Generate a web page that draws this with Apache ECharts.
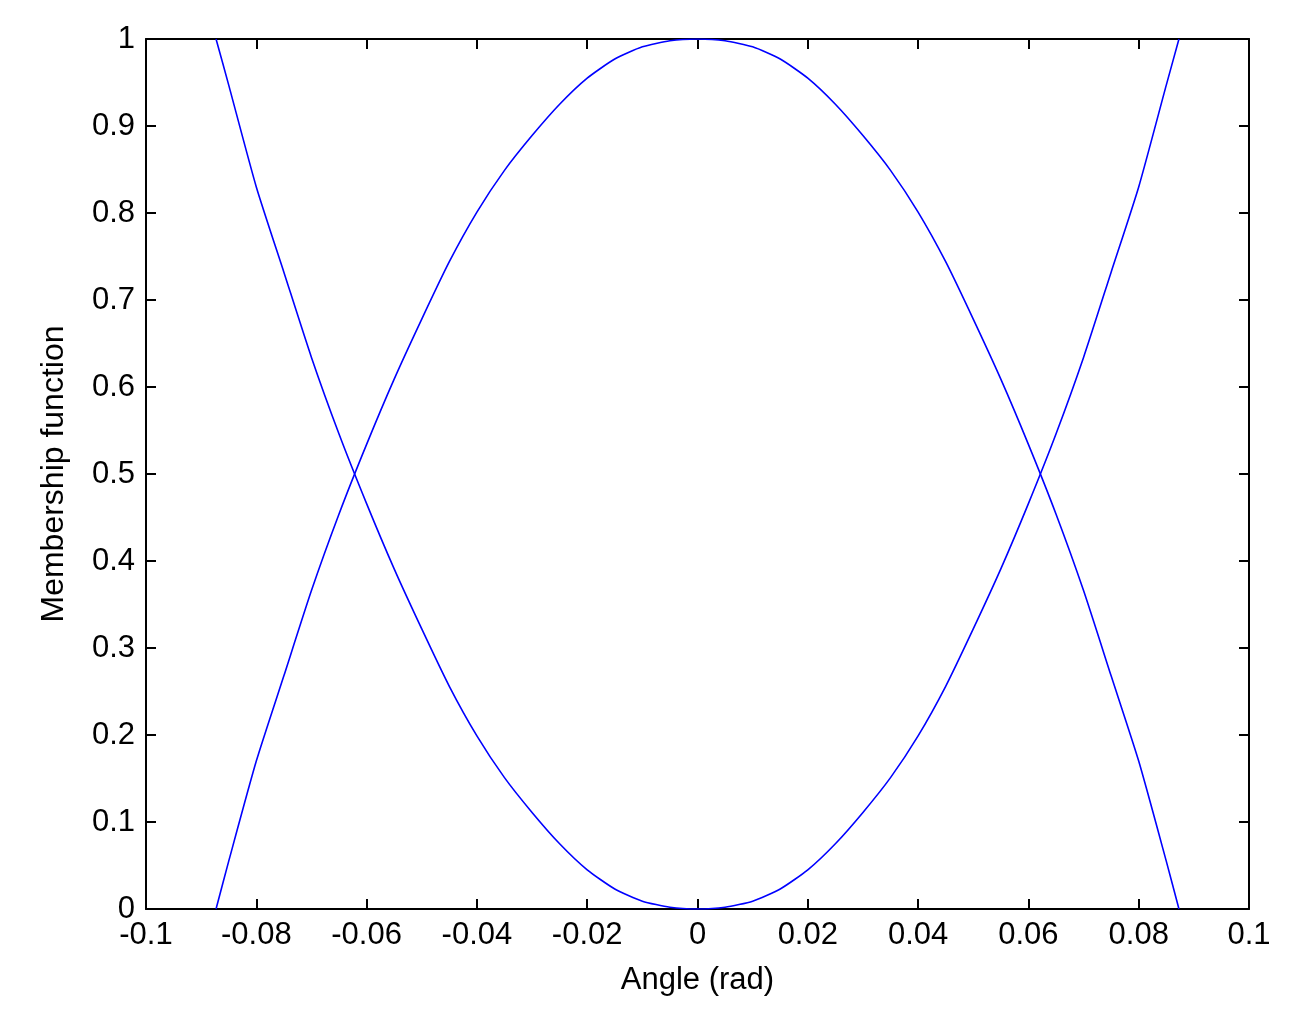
<!DOCTYPE html>
<html>
<head>
<meta charset="utf-8">
<script src="https://cdn.jsdelivr.net/npm/echarts@6/dist/echarts.min.js"></script>
<style>
html,body{margin:0;padding:0;background:#fff;}
#main{width:1292px;height:1012px;}
</style>
</head>
<body>
<div id="main"></div>
<script>
// angle samples (rad)
var angles = [-0.0873, -0.085, -0.08, -0.075, -0.07, -0.065, -0.06, -0.055, -0.05, -0.045,
  -0.04, -0.035, -0.03, -0.025, -0.02, -0.015, -0.01, -0.005, 0,
  0.005, 0.01, 0.015, 0.02, 0.025, 0.03, 0.035, 0.04, 0.045, 0.05,
  0.055, 0.06, 0.065, 0.07, 0.075, 0.08, 0.085, 0.0873];
// bell shaped membership (zero)
var zeroMf = [0, 0.055, 0.170, 0.268, 0.366, 0.454, 0.534, 0.609, 0.678, 0.744,
  0.801, 0.849, 0.889, 0.925, 0.955, 0.977, 0.991, 0.998, 1,
  0.998, 0.991, 0.977, 0.955, 0.925, 0.889, 0.849, 0.801, 0.744, 0.678,
  0.609, 0.534, 0.454, 0.366, 0.268, 0.170, 0.055, 0];
// U shaped membership (negative / positive)
var sideMf = [1, 0.947, 0.830, 0.732, 0.634, 0.546, 0.466, 0.391, 0.322, 0.256,
  0.199, 0.151, 0.111, 0.075, 0.045, 0.023, 0.009, 0.002, 0,
  0.002, 0.009, 0.023, 0.045, 0.075, 0.111, 0.151, 0.199, 0.256, 0.322,
  0.391, 0.466, 0.546, 0.634, 0.732, 0.830, 0.947, 1];

var mychart = echarts.init(document.getElementById('main'));
var font = 'Liberation Sans, Arial, sans-serif';
var black = '#000';

function pairs(ys) {
  return angles.map(function (a, i) { return [a, ys[i]]; });
}
function fmt(v) {
  return String(parseFloat(v.toFixed(2)));
}
var lineSty = { onZero: false, lineStyle: { color: black, width: 2 } };
var tickSty = { show: true, inside: true, length: 10, lineStyle: { color: black, width: 2 } };

var option = {
  animation: false,
  backgroundColor: '#fff',
  grid: { left: 146, right: 43, top: 39, bottom: 103, containLabel: false },
  xAxis: [{
    type: 'value', min: -0.1, max: 0.1, interval: 0.02, position: 'bottom',
    axisLine: lineSty, axisTick: tickSty, splitLine: { show: false },
    axisLabel: { color: black, fontSize: 31, fontFamily: font, margin: 11,
      showMinLabel: true, showMaxLabel: true, formatter: fmt },
    name: 'Angle (rad)', nameLocation: 'middle', nameGap: 56,
    nameTextStyle: { color: black, fontSize: 31, fontFamily: font }
  }, {
    type: 'value', min: -0.1, max: 0.1, interval: 0.02, position: 'top',
    axisLine: lineSty, axisTick: tickSty, splitLine: { show: false },
    axisLabel: { show: false }
  }],
  yAxis: [{
    type: 'value', min: 0, max: 1, interval: 0.1, position: 'left',
    axisLine: lineSty, axisTick: tickSty, splitLine: { show: false },
    axisLabel: { color: black, fontSize: 31, fontFamily: font, margin: 11,
      showMinLabel: true, showMaxLabel: true, formatter: fmt },
    name: 'Membership function', nameLocation: 'middle', nameGap: 76, nameRotate: 90,
    nameTextStyle: { color: black, fontSize: 32, fontFamily: font }
  }, {
    type: 'value', min: 0, max: 1, interval: 0.1, position: 'right',
    axisLine: lineSty, axisTick: tickSty, splitLine: { show: false },
    axisLabel: { show: false }
  }],
  series: [{
    name: 'zero', type: 'line', showSymbol: false, smooth: 0.2, data: pairs(zeroMf),
    lineStyle: { color: '#0000ff', width: 1.6 }
  }, {
    name: 'side', type: 'line', showSymbol: false, smooth: 0.2, data: pairs(sideMf),
    lineStyle: { color: '#0000ff', width: 1.6 }
  }]
};
mychart.setOption(option);
</script>
</body>
</html>
